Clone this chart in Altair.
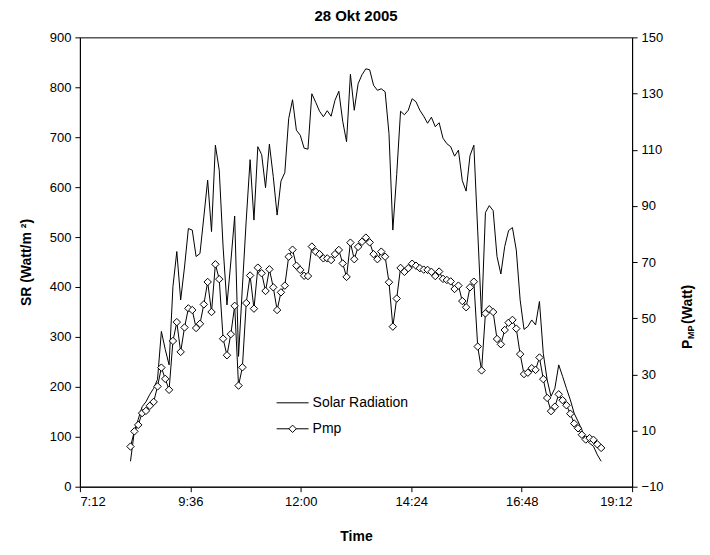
import altair as alt
import pandas as pd

# ---- data (5-minute samples, 28 Okt 2005) ----
sr = [51, 112, 135, 160, 170, 185, 197, 215, 311, 275,
      244, 401, 471, 374, 440, 517, 514, 461, 467, 540,
      614, 511, 684, 634, 480, 364, 450, 542, 261, 400,
      534, 655, 534, 681, 665, 599, 686, 621, 544, 612,
      629, 737, 775, 714, 704, 678, 676, 787, 770, 752,
      741, 753, 742, 774, 792, 732, 691, 826, 754, 807,
      825, 837, 835, 804, 794, 797, 791, 707, 514, 625,
      752, 745, 754, 777, 771, 754, 742, 728, 740, 721,
      729, 698, 687, 681, 662, 674, 613, 592, 663, 684,
      512, 340, 549, 563, 553, 461, 426, 481, 513, 519,
      474, 374, 315, 321, 334, 324, 371, 267, 214, 181,
      197, 244, 221, 197, 174, 147, 131, 114, 94, 87,
      81, 64, 51]

pmp = [4.3, 9.7, 12.0, 16.2, 17.0, 18.8, 20.2, 25.7, 32.4, 28.4,
       24.5, 41.9, 48.6, 38.0, 46.7, 53.5, 52.9, 46.5, 48.0, 54.9,
       62.9, 52.2, 69.2, 63.9, 42.7, 36.8, 44.3, 54.4, 26.0, 32.5,
       55.4, 65.2, 53.4, 68.0, 66.0, 59.7, 67.4, 61.0, 52.9, 59.2,
       61.6, 71.9, 74.4, 68.7, 67.2, 65.1, 65.0, 75.5, 73.7, 72.8,
       71.3, 71.3, 70.7, 72.8, 74.3, 69.5, 64.7, 76.9, 71.0, 75.4,
       77.2, 78.7, 77.0, 72.8, 71.0, 73.7, 71.9, 62.8, 47.0, 57.0,
       67.9, 66.5, 67.8, 69.4, 68.7, 67.8, 67.3, 67.2, 66.5, 65.0,
       66.6, 64.0, 63.6, 63.1, 60.4, 61.6, 56.1, 53.9, 61.0, 63.0,
       39.9, 31.4, 51.7, 53.2, 52.2, 42.6, 40.7, 45.8, 48.4, 49.4,
       46.3, 37.2, 30.1, 30.6, 32.2, 31.6, 36.0, 28.3, 21.6, 16.9,
       18.5, 22.9, 20.8, 19.0, 16.0, 12.5, 10.8, 8.5, 6.8, 7.3,
       6.7, 5.1, 3.8]

start_min = 498      # 8:18
step_min = 5.03      # sampling interval (minutes)
hours = [(start_min + i * step_min) / 60.0 for i in range(len(sr))]

x_ticks = [7.2, 9.6, 12.0, 14.4, 16.8, 19.2]
sr_ticks = list(range(0, 901, 100))
pmp_ticks = list(range(-10, 151, 20))

legend_labels = ["Solar Radiation", "Pmp"]

df = pd.DataFrame({"t": hours, "SR": sr, "Pmp": pmp})

FONT = "Liberation Sans"
W, H = 553, 450

label_expr = ("floor(datum.value + 0.001) + ':' + "
              "(round((datum.value - floor(datum.value + 0.001)) * 60) < 10 ? '0' : '') + "
              "round((datum.value - floor(datum.value + 0.001)) * 60)")

common_axis = dict(grid=False, domainColor="black", domainWidth=1, tickColor="black",
                   tickSize=5, tickWidth=1, labelFont=FONT, labelFontSize=13,
                   labelColor="black", titleFont=FONT, titleFontSize=14,
                   titleFontWeight="bold", titleColor="black", labelPadding=4)

x_enc = alt.X("t:Q", scale=alt.Scale(domain=[7.2, 19.2], nice=False, zero=False),
              axis=alt.Axis(values=x_ticks, labelExpr=label_expr, title="Time",
                            titlePadding=21, **common_axis))

sr_line = alt.Chart(df).mark_line(color="black", strokeWidth=1).encode(
    x=x_enc,
    y=alt.Y("SR:Q", scale=alt.Scale(domain=[0, 900], nice=False),
            axis=alt.Axis(values=sr_ticks, orient="left", title="SR (Watt/m ²)",
                          titlePadding=16, **common_axis)),
)

pmp_axis = alt.Axis(values=pmp_ticks, orient="right", title=None, **common_axis)
pmp_y = alt.Y("Pmp:Q", scale=alt.Scale(domain=[-10, 150], nice=False, zero=False), axis=pmp_axis)

pmp_line = alt.Chart(df).mark_line(color="black", strokeWidth=1).encode(x="t:Q", y=pmp_y)
pmp_pts = alt.Chart(df).mark_point(shape="diamond", filled=True, fill="white",
                                   stroke="black", strokeWidth=1, size=55, opacity=1).encode(
    x="t:Q", y=pmp_y)
pmp_layer = alt.layer(pmp_line, pmp_pts)

# ---- legend (inside the plot) ----
leg_sr_line = alt.Chart().mark_rule(color="black", strokeWidth=1).encode(
    x=alt.value(197), x2=alt.value(229), y=alt.value(366))
leg_pmp_line = alt.Chart().mark_rule(color="black", strokeWidth=1).encode(
    x=alt.value(197), x2=alt.value(229), y=alt.value(392))
leg_pmp_pt = alt.Chart().mark_point(shape="diamond", filled=True, fill="white",
                                    stroke="black", strokeWidth=1, size=55, opacity=1).encode(
    x=alt.value(213), y=alt.value(392))
leg_sr_txt = alt.Chart().mark_text(align="left", baseline="middle", font=FONT, fontSize=14,
                                   color="black").encode(
    x=alt.value(233), y=alt.value(366), text=alt.value(legend_labels[0]))
leg_pmp_txt = alt.Chart().mark_text(align="left", baseline="middle", font=FONT, fontSize=14,
                                    color="black").encode(
    x=alt.value(233), y=alt.value(392), text=alt.value(legend_labels[1]))

# ---- right axis title with subscript ----
rt_p = alt.Chart().mark_text(align="left", baseline="middle", angle=270, font=FONT,
                             fontSize=14, fontWeight="bold", color="black").encode(
    x=alt.value(W + 56), y=alt.value(312), text=alt.value("P"))
rt_mp = alt.Chart().mark_text(align="left", baseline="middle", angle=270, font=FONT,
                              fontSize=9, fontWeight="bold", color="black").encode(
    x=alt.value(W + 59), y=alt.value(302), text=alt.value("MP"))
rt_watt = alt.Chart().mark_text(align="left", baseline="middle", angle=270, font=FONT,
                                fontSize=14, fontWeight="bold", color="black").encode(
    x=alt.value(W + 56), y=alt.value(287), text=alt.value(" (Watt)"))

chart = alt.layer(
    sr_line, pmp_layer,
    leg_sr_line, leg_pmp_line, leg_pmp_pt, leg_sr_txt, leg_pmp_txt,
    rt_p, rt_mp, rt_watt,
).resolve_scale(y="independent").properties(
    width=W, height=H,
    title=alt.TitleParams("28 Okt 2005", font=FONT, fontSize=15, fontWeight="bold",
                          color="black", anchor="middle", offset=7),
    autosize=alt.AutoSizeParams(type="none"),
    padding={"left": 72, "top": 29, "right": 70, "bottom": 60},
).configure_view(
    stroke="black", strokeWidth=1
)

chart.save("out.html", embed_options={"renderer": "svg", "actions": False})
